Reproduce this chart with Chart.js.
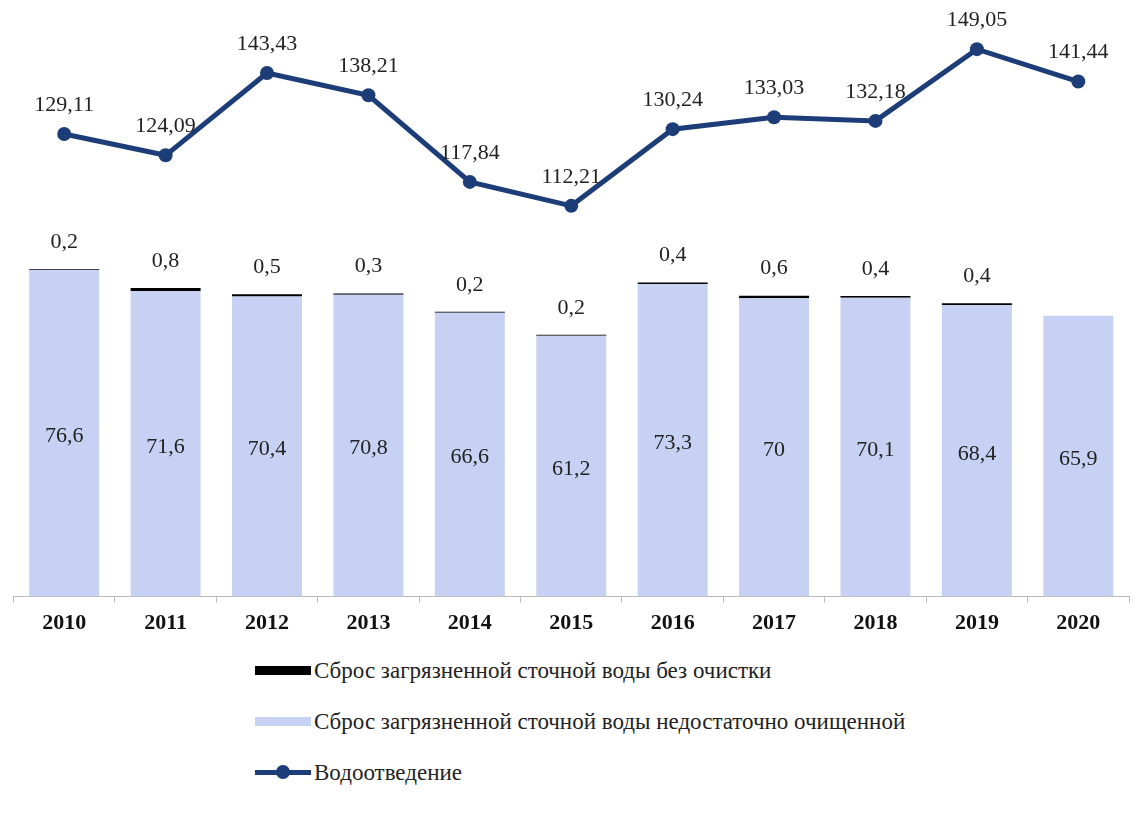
<!DOCTYPE html>
<html>
<head>
<meta charset="utf-8">
<script src="https://cdn.jsdelivr.net/npm/chart.js@4.4.1/dist/chart.umd.min.js"></script>
<style>
    body { margin: 0; background: #fff; }
    .wrap { position: relative; width: 1134px; height: 815px; overflow: hidden; }
    .chart-box { position: absolute; left: 0; top: 0; width: 1136px; height: 645px; }
    .legend { position: absolute; left: 255px; top: 645px; font-family: "Liberation Serif", serif; font-size: 23px; color: #222; }
    .legend-item { display: flex; align-items: center; height: 51px; }
    .legend-swatch { width: 56px; height: 9px; margin-right: 3px; }
    .legend-line { position: relative; width: 56px; height: 5px; margin-right: 3px; }
    .legend-line span { position: absolute; left: 21px; top: -5px; width: 14px; height: 14px; border-radius: 50%; }
</style>
</head>
<body>
<div class="wrap">
    <div class="chart-box"><canvas id="wasteChart"></canvas></div>
    <div class="legend" id="legend"></div>
</div>
<script>
const years = ["2010", "2011", "2012", "2013", "2014", "2015", "2016", "2017", "2018", "2019", "2020"];
// сброс без очистки
const untreated = [0.2, 0.8, 0.5, 0.3, 0.2, 0.2, 0.4, 0.6, 0.4, 0.4, null];
// недостаточно очищенной
const poorlyTreated = [76.6, 71.6, 70.4, 70.8, 66.6, 61.2, 73.3, 70, 70.1, 68.4, 65.9];
// водоотведение
const drainage = [129.11, 124.09, 143.43, 138.21, 117.84, 112.21, 130.24, 133.03, 132.18, 149.05, 141.44];

const navy = "#1c3d78";
const lightBlue = "#c6d1f3";
const labelFont = '22px "Liberation Serif", serif';

function fmt(v, digits) {
    return (digits ? v.toFixed(digits) : String(v)).replace(".", ",");
}

// draw value labels (no datalabels plugin available)
const valueLabels = {
    id: "valueLabels",
    afterDatasetsDraw(chart) {
        const c = chart.ctx;
        c.save();
        c.font = labelFont;
        c.fillStyle = "#222";
        c.textAlign = "center";
        c.textBaseline = "middle";
        const lineMeta = chart.getDatasetMeta(2);
        lineMeta.data.forEach((pt, i) => {
            c.fillText(fmt(drainage[i], 2), pt.x, pt.y - 29);
        });
        const blueMeta = chart.getDatasetMeta(0);
        blueMeta.data.forEach((bar, i) => {
            c.fillText(fmt(poorlyTreated[i]), bar.x, (bar.y + bar.base) / 2 + 3);
        });
        const blackMeta = chart.getDatasetMeta(1);
        blackMeta.data.forEach((bar, i) => {
            if (untreated[i] == null) return;
            c.fillText(fmt(untreated[i]), bar.x, bar.y - 27);
        });
        c.restore();
    }
};

const ctx = document.getElementById("wasteChart");
const chart = new Chart(ctx, {
    type: "bar",
    data: {
        labels: years,
        datasets: [
            {
                label: "Сброс загрязненной сточной воды недостаточно очищенной",
                data: poorlyTreated,
                backgroundColor: lightBlue,
                stack: "s",
                yAxisID: "y",
                barPercentage: 0.69,
                categoryPercentage: 1,
                order: 2
            },
            {
                label: "Сброс загрязненной сточной воды без очистки",
                data: untreated,
                backgroundColor: "#000",
                stack: "s",
                yAxisID: "y",
                barPercentage: 0.69,
                categoryPercentage: 1,
                order: 3
            },
            {
                type: "line",
                label: "Водоотведение",
                data: drainage,
                borderColor: navy,
                backgroundColor: navy,
                borderWidth: 5,
                pointRadius: 7,
                pointBackgroundColor: navy,
                pointBorderWidth: 0,
                tension: 0,
                yAxisID: "y2",
                order: 1
            }
        ]
    },
    options: {
        responsive: true,
        maintainAspectRatio: false,
        animation: false,
        layout: { padding: { top: 10, left: 13.5, right: 0, bottom: 0 } },
        plugins: {
            legend: { display: false },
            tooltip: { enabled: false }
        },
        scales: {
            x: {
                stacked: true,
                grid: { drawOnChartArea: false, color: "#bbb", tickLength: 6 },
                border: { color: "#bbb" },
                ticks: {
                    color: "#111",
                    font: { family: "Liberation Serif", size: 22, weight: "bold" },
                    padding: 8
                }
            },
            y: { stacked: true, display: false, min: 0, max: 137.6 },
            y2: { display: false, min: 20.33, max: 158.26 }
        }
    },
    plugins: [valueLabels]
});

// legend below the chart: black, blue, line (same order as the original)
const legend = document.getElementById("legend");
[1, 0, 2].forEach(idx => {
    const ds = chart.data.datasets[idx];
    const item = document.createElement("div");
    item.className = "legend-item";
    if (ds.type === "line") {
        item.innerHTML = '<div class="legend-line" style="background:' + ds.borderColor + '"><span style="background:' + ds.borderColor + '"></span></div>';
    } else {
        item.innerHTML = '<div class="legend-swatch" style="background:' + ds.backgroundColor + '"></div>';
    }
    item.appendChild(document.createTextNode(ds.label));
    legend.appendChild(item);
});
</script>
</body>
</html>
